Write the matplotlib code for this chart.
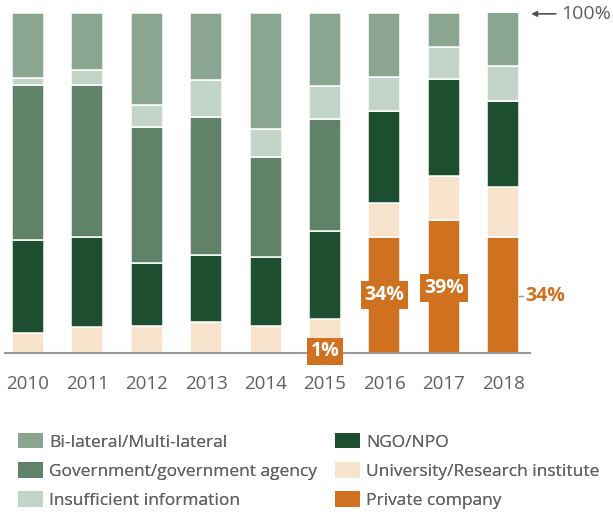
import matplotlib
matplotlib.use("Agg")
import matplotlib.pyplot as plt
from matplotlib.patches import Patch
import numpy as np

plt.rcParams['font.family'] = ['Open Sans', 'DejaVu Sans']

years = ['2010', '2011', '2012', '2013', '2014', '2015', '2016', '2017', '2018']
private = [0, 0, 0, 0, 0, 1, 34, 39, 34]
university = [5.7, 7.5, 7.8, 9.1, 7.8, 9.0, 10.1, 13.0, 14.7]
ngo = [27.4, 26.5, 18.4, 19.6, 20.4, 25.8, 26.9, 28.5, 25.2]
government = [45.6, 44.7, 40.0, 40.5, 29.2, 32.8, 0, 0, 0]
insufficient = [2.0, 4.4, 6.6, 11.0, 8.3, 9.7, 10.1, 9.5, 10.3]
bilateral = [19.3, 16.9, 27.2, 19.8, 34.3, 21.7, 18.9, 10.0, 15.8]

series_names = ['Private company', 'University/Research institute', 'NGO/NPO',
                'Government/government agency', 'Insufficient information',
                'Bi-lateral/Multi-lateral']
series_vals = [private, university, ngo, government, insufficient, bilateral]
colors = {
    'Bi-lateral/Multi-lateral': '#8aa691',
    'Government/government agency': '#5f8269',
    'Insufficient information': '#c3d5c9',
    'NGO/NPO': '#1d4e30',
    'University/Research institute': '#f8e4cd',
    'Private company': '#d0711f',
}
orange = colors['Private company']
gray = '#606060'

W, H = 613, 515
fig = plt.figure(figsize=(W / 100, H / 100), dpi=100)
px_left, px_right = 5, 530
px_top, px_base = 12.5, 352.5
c0, step = 28.0, 59.4
ax = fig.add_axes([px_left / W, (H - px_base) / H, (px_right - px_left) / W, (px_base - px_top) / H])
ax.set_xlim((px_left - c0) / step, (px_right - c0) / step)
ax.set_ylim(0, 100)

x = np.arange(len(years))
bottom = np.zeros(len(years))
for name, vals in zip(series_names, series_vals):
    v = np.array(vals, dtype=float)
    ax.bar(x, v, width=0.54, bottom=bottom, color=colors[name],
           edgecolor='white', linewidth=1.1, zorder=2)
    bottom += v

for s in ['top', 'right', 'left']:
    ax.spines[s].set_visible(False)
ax.spines['bottom'].set_color('#9a9a9a')
ax.spines['bottom'].set_linewidth(1.5)
ax.spines['bottom'].set_zorder(3)
ax.set_yticks([])
ax.set_xticks(x)
ax.set_xticklabels(years, fontsize=13.5, color=gray)
ax.tick_params(axis='x', length=0, pad=16)

# value labels for private company
lfs = 14
box = dict(boxstyle='square,pad=0.2', fc=orange, ec='none')
ax.text(5, 0.3, f"{private[5]}%", ha='center', va='center', fontsize=lfs,
        fontweight='bold', color='white', bbox=box, zorder=5, clip_on=False)
ax.text(6, 16.8, f"{private[6]}%", ha='center', va='center', fontsize=lfs,
        fontweight='bold', color='white', bbox=box, zorder=5)
ax.text(7, 18.9, f"{private[7]}%", ha='center', va='center', fontsize=lfs,
        fontweight='bold', color='white', bbox=box, zorder=5)
ax.plot([8.27, 8.33], [16.6, 16.6], color='#9a9a9a', lw=1, clip_on=False, zorder=5)
ax.text(8.37, 16.5, f"{private[8]}%", ha='left', va='center', fontsize=lfs,
        fontweight='bold', color=orange, clip_on=False)

# 100% marker
ax.annotate('100%', xy=(8.47, 99.6), xytext=(8.98, 99.6), textcoords='data',
            ha='left', va='center', fontsize=14, color=gray,
            arrowprops=dict(arrowstyle='-|>', color='#505050', lw=1.2,
                            mutation_scale=8, shrinkA=2, shrinkB=0),
            annotation_clip=False)

# legend in two columns
fs = 12.5
fpx = fs * 100 / 72
col1 = ['Bi-lateral/Multi-lateral', 'Government/government agency', 'Insufficient information']
col2 = ['NGO/NPO', 'University/Research institute', 'Private company']
for names, xpx in [(col1, 18), (col2, 335)]:
    handles = [Patch(facecolor=colors[n], edgecolor='none') for n in names]
    leg = fig.legend(handles, names, loc='upper left',
                     bbox_to_anchor=(xpx / W, (H - 433) / H),
                     frameon=False, fontsize=fs, labelcolor=gray,
                     handlelength=25 / fpx, handleheight=17 / fpx,
                     handletextpad=6 / fpx, labelspacing=(29 - fpx) / fpx,
                     borderpad=0, borderaxespad=0)
    fig.add_artist(leg)

fig.savefig('out.png', dpi=100)
